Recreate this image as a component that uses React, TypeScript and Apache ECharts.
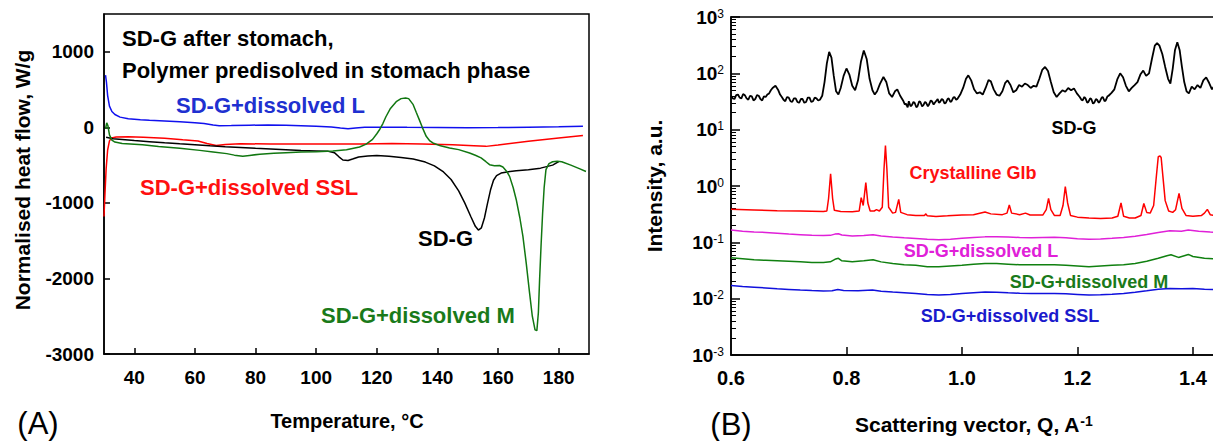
import { useEffect, useRef } from "react";
import * as echarts from "echarts";

// ---------- Panel A: DSC ----------
const dscTempTicks = [40, 60, 80, 100, 120, 140, 160, 180];
const dscHeatTicks = [-3000, -2000, -1000, 0, 1000];

const dscL: [number, number][] = [
  [30.5, 690], [30.8, 600], [31.2, 420], [31.8, 280], [32.6, 210], [33.6, 170], [35.3, 135], [38, 115],
  [42, 100], [45, 93], [50, 85], [55, 75], [60, 62], [63, 50], [66, 30], [68, 22], [72, 24], [78, 28],
  [84, 32], [90, 28], [95, 22], [100, 15], [105, 5], [108, -8], [110.5, -18], [113, -8], [116, 0],
  [122, 2], [130, 0], [140, -2], [150, -4], [160, -3], [170, 2], [180, 8], [188, 15],
];

const dscSSL: [number, number][] = [
  [30, -1180], [30.3, -900], [30.7, -550], [31.2, -300], [31.8, -180], [32.5, -140], [34, -128], [38, -125],
  [43, -130], [50, -145], [56, -165], [61, -180], [64, -215], [67, -240], [70, -228], [75, -218], [85, -220],
  [95, -222], [105, -222], [115, -220], [125, -215], [135, -222], [145, -232], [152, -245], [156, -252],
  [160, -235], [170, -185], [180, -140], [188, -108],
];

const dscSDG: [number, number][] = [
  [30.7, -130], [33, -150], [36, -160], [40, -175], [45, -190], [50, -205], [55, -218], [60, -230],
  [65, -245], [70, -258], [75, -268], [80, -278], [85, -287], [90, -296], [95, -305], [100, -312],
  [104, -318], [106, -335], [107.5, -390], [108.8, -432], [110.5, -440], [112, -420], [114, -392],
  [117, -378], [120, -372], [124, -382], [128, -400], [132, -420], [136, -460], [139, -510], [142, -590],
  [144.5, -690], [147, -840], [149, -1000], [151, -1180], [152.5, -1310], [153.5, -1360], [154.5, -1330],
  [155.5, -1200], [156.5, -1010], [157.5, -830], [158.5, -700], [159.5, -640], [161, -605], [163, -590],
  [166, -575], [170, -560], [174, -540], [178, -500], [180, -455],
];

const dscM: [number, number][] = [
  [30.5, -20], [30.9, 60], [31.3, 20], [31.8, -100], [32.6, -170], [33.6, -195], [36, -215], [42.7, -232],
  [48, -255], [55, -278], [61.6, -305], [66, -325], [70.5, -348], [73, -368], [75.8, -384], [78, -372],
  [81.4, -355], [86, -342], [90, -335], [95, -328], [100, -322], [105.5, -314], [110, -298], [114.3, -260],
  [116.5, -222], [118.6, -160], [120, -85], [121, -25], [122, 50], [123, 140], [124.5, 250], [126.4, 340],
  [128, 380], [129.5, 389], [130.5, 380], [132, 300], [133, 200], [134, 102], [135, 0], [136.3, -119],
  [137.5, -180], [138.5, -207], [141, -245], [144, -273], [147, -295], [150.6, -339], [152.5, -370],
  [154.4, -405], [156, -455], [157.2, -494], [158.8, -507], [160.5, -505], [161.6, -525], [162.8, -580],
  [163.8, -649], [165, -800], [166, -958], [167.2, -1200], [168.2, -1444], [169.3, -1800], [170.4, -2194],
  [171.3, -2500], [172.2, -2680], [172.8, -2690], [173.3, -2450], [173.7, -2017], [174.2, -1550],
  [174.7, -1134], [175.2, -800], [175.8, -560], [176.8, -480], [178, -455], [179.5, -448], [181, -455],
  [184, -500], [187, -550], [189, -585],
];

// ---------- Panel B: scattering ----------
const qTickLabels = [0.6, 0.8, 1.0, 1.2, 1.4];
const qTicks = [0.8, 1.0, 1.2, 1.4];

const xrdSDG: [number, number][] = [
  [0.600, 40], [0.603, 36], [0.606, 35], [0.609, 41], [0.612, 42], [0.615, 37], [0.618, 36], [0.621, 43],
  [0.624, 41], [0.627, 36], [0.630, 34], [0.633, 40], [0.636, 39], [0.639, 33], [0.642, 35], [0.645, 41],
  [0.648, 40], [0.651, 35], [0.654, 33], [0.657, 39], [0.660, 38], [0.663, 42], [0.666, 44], [0.669, 50],
  [0.672, 55], [0.677, 60], [0.682, 50], [0.685, 42], [0.688, 38], [0.691, 34], [0.694, 32], [0.697, 38],
  [0.700, 37], [0.703, 32], [0.706, 31], [0.709, 36], [0.712, 36], [0.715, 31], [0.718, 30], [0.721, 35],
  [0.724, 35], [0.727, 30], [0.730, 31], [0.733, 37], [0.736, 37], [0.739, 31], [0.742, 32], [0.745, 37],
  [0.748, 36], [0.751, 33], [0.754, 34], [0.758, 40], [0.762, 70], [0.766, 150], [0.770, 240], [0.774, 190],
  [0.778, 90], [0.782, 48], [0.786, 42], [0.790, 55], [0.795, 90], [0.800, 122], [0.805, 95], [0.810, 60],
  [0.815, 50], [0.820, 75], [0.825, 160], [0.830, 255], [0.835, 180], [0.840, 80], [0.845, 50], [0.849, 42],
  [0.853, 48], [0.858, 65], [0.864, 86], [0.869, 70], [0.874, 44], [0.879, 38], [0.884, 48], [0.888, 52],
  [0.893, 40], [0.898, 33], [0.901, 28], [0.903, 29], [0.906, 25], [0.908, 32], [0.911, 26], [0.913, 27],
  [0.916, 31], [0.918, 30], [0.921, 25], [0.923, 26], [0.926, 32], [0.928, 31], [0.931, 26], [0.933, 27],
  [0.936, 31], [0.938, 30], [0.941, 26], [0.943, 28], [0.946, 33], [0.948, 32], [0.951, 28], [0.953, 30],
  [0.956, 33], [0.958, 35], [0.960, 30], [0.962, 31], [0.965, 35], [0.967, 34], [0.970, 29], [0.972, 30],
  [0.975, 35], [0.977, 36], [0.980, 31], [0.982, 32], [0.985, 37], [0.987, 38], [0.990, 34], [0.992, 35],
  [0.997, 42], [1.002, 55], [1.007, 80], [1.011, 92], [1.016, 75], [1.021, 52], [1.026, 44], [1.031, 46],
  [1.036, 42], [1.041, 55], [1.046, 76], [1.050, 72], [1.055, 52], [1.060, 42], [1.065, 40], [1.070, 48],
  [1.075, 68], [1.079, 75], [1.084, 62], [1.089, 46], [1.094, 50], [1.099, 62], [1.104, 58], [1.109, 66],
  [1.114, 62], [1.119, 55], [1.124, 60], [1.129, 58], [1.134, 80], [1.139, 115], [1.144, 130], [1.149, 110],
  [1.154, 70], [1.159, 46], [1.164, 38], [1.169, 44], [1.174, 50], [1.179, 47], [1.184, 55], [1.189, 50],
  [1.194, 54], [1.199, 44], [1.204, 38], [1.207, 34], [1.209, 33], [1.212, 38], [1.214, 36], [1.217, 30],
  [1.219, 31], [1.222, 36], [1.224, 35], [1.227, 29], [1.229, 30], [1.232, 35], [1.234, 34], [1.237, 30],
  [1.239, 32], [1.242, 37], [1.244, 38], [1.247, 32], [1.249, 33], [1.252, 39], [1.254, 40], [1.259, 45],
  [1.264, 52], [1.269, 78], [1.274, 100], [1.279, 85], [1.284, 60], [1.289, 48], [1.294, 55], [1.299, 62],
  [1.304, 70], [1.309, 95], [1.314, 112], [1.319, 90], [1.324, 100], [1.329, 180], [1.334, 310],
  [1.338, 345], [1.342, 310], [1.347, 220], [1.352, 130], [1.357, 80], [1.361, 66], [1.365, 120],
  [1.369, 260], [1.373, 355], [1.377, 260], [1.381, 130], [1.385, 70], [1.389, 48], [1.393, 44],
  [1.398, 58], [1.403, 52], [1.408, 62], [1.413, 55], [1.418, 75], [1.423, 85], [1.428, 68], [1.433, 52],
  [1.438, 62], [1.442, 58],
];

const xrdGlb: [number, number][] = [
  [0.600, 0.385], [0.640, 0.375], [0.680, 0.365], [0.720, 0.36], [0.760, 0.352], [0.766, 0.36],
  [0.769, 0.6], [0.7725, 1.65], [0.776, 0.6], [0.779, 0.37], [0.790, 0.352], [0.810, 0.35], [0.822, 0.36],
  [0.8255, 0.62], [0.829, 0.45], [0.8335, 1.15], [0.837, 0.5], [0.841, 0.36], [0.848, 0.36], [0.852, 0.38],
  [0.857, 0.36], [0.862, 0.42], [0.865, 2.0], [0.8675, 5.2], [0.870, 2.0], [0.873, 0.42], [0.880, 0.33],
  [0.885, 0.34], [0.8905, 0.58], [0.894, 0.34], [0.905, 0.31], [0.920, 0.30], [0.935, 0.30], [0.9375, 0.32],
  [0.940, 0.295], [0.955, 0.288], [0.975, 0.295], [1.000, 0.305], [1.020, 0.31], [1.040, 0.345],
  [1.050, 0.32], [1.070, 0.31], [1.078, 0.33], [1.082, 0.46], [1.086, 0.33], [1.100, 0.31], [1.110, 0.33],
  [1.118, 0.305], [1.140, 0.305], [1.146, 0.38], [1.150, 0.60], [1.154, 0.38], [1.160, 0.30], [1.170, 0.30],
  [1.175, 0.45], [1.179, 0.98], [1.183, 0.5], [1.188, 0.30], [1.200, 0.28], [1.220, 0.27], [1.240, 0.265],
  [1.260, 0.27], [1.270, 0.29], [1.2755, 0.50], [1.280, 0.29], [1.290, 0.27], [1.300, 0.27], [1.310, 0.30],
  [1.315, 0.49], [1.320, 0.34], [1.326, 0.33], [1.332, 0.45], [1.337, 1.6], [1.340, 3.3], [1.343, 3.4],
  [1.345, 3.2], [1.348, 1.5], [1.352, 0.55], [1.358, 0.36], [1.365, 0.34], [1.370, 0.38], [1.376, 0.74],
  [1.381, 0.4], [1.388, 0.30], [1.400, 0.29], [1.415, 0.30], [1.420, 0.33], [1.425, 0.385], [1.430, 0.31],
  [1.442, 0.29],
];

const xrdL: [number, number][] = [
  [0.600, 0.165], [0.62, 0.158], [0.64, 0.153], [0.66, 0.150], [0.68, 0.145], [0.70, 0.140], [0.72, 0.137],
  [0.74, 0.133], [0.76, 0.132], [0.772, 0.133], [0.78, 0.140], [0.786, 0.142], [0.792, 0.135], [0.81, 0.130],
  [0.83, 0.132], [0.846, 0.136], [0.86, 0.130], [0.88, 0.124], [0.90, 0.120], [0.92, 0.117], [0.94, 0.113],
  [0.96, 0.111], [0.98, 0.114], [1.00, 0.118], [1.02, 0.122], [1.04, 0.125], [1.06, 0.126], [1.08, 0.124],
  [1.10, 0.122], [1.12, 0.121], [1.14, 0.122], [1.16, 0.123], [1.18, 0.120], [1.20, 0.116], [1.22, 0.114],
  [1.24, 0.115], [1.26, 0.118], [1.28, 0.122], [1.30, 0.128], [1.32, 0.138], [1.34, 0.150], [1.36, 0.160],
  [1.38, 0.158], [1.392, 0.165], [1.41, 0.158], [1.43, 0.152], [1.44, 0.150],
];

const xrdM: [number, number][] = [
  [0.600, 0.053], [0.62, 0.051], [0.64, 0.049], [0.66, 0.048], [0.68, 0.047], [0.70, 0.046], [0.72, 0.045],
  [0.74, 0.044], [0.76, 0.044], [0.772, 0.045], [0.78, 0.050], [0.786, 0.052], [0.792, 0.047], [0.81, 0.045],
  [0.83, 0.047], [0.846, 0.049], [0.86, 0.045], [0.88, 0.042], [0.90, 0.040], [0.92, 0.039], [0.94, 0.037],
  [0.96, 0.037], [0.98, 0.038], [1.00, 0.039], [1.02, 0.041], [1.04, 0.042], [1.06, 0.042], [1.08, 0.041],
  [1.10, 0.040], [1.12, 0.040], [1.14, 0.040], [1.16, 0.040], [1.18, 0.039], [1.20, 0.038], [1.22, 0.037],
  [1.24, 0.038], [1.26, 0.039], [1.28, 0.040], [1.30, 0.042], [1.32, 0.046], [1.34, 0.052], [1.355, 0.058],
  [1.362, 0.060], [1.375, 0.054], [1.385, 0.058], [1.392, 0.061], [1.40, 0.056], [1.42, 0.052], [1.44, 0.051],
];

const xrdSSL: [number, number][] = [
  [0.600, 0.0172], [0.62, 0.0165], [0.64, 0.016], [0.66, 0.0155], [0.68, 0.015], [0.70, 0.0146],
  [0.72, 0.0142], [0.74, 0.0139], [0.76, 0.0137], [0.775, 0.0138], [0.785, 0.0145], [0.795, 0.014],
  [0.82, 0.0138], [0.845, 0.0142], [0.86, 0.0136], [0.88, 0.0131], [0.90, 0.0127], [0.92, 0.0123],
  [0.94, 0.0119], [0.96, 0.0116], [0.98, 0.0119], [1.00, 0.0123], [1.02, 0.0127], [1.04, 0.0131],
  [1.06, 0.0130], [1.08, 0.0127], [1.10, 0.0125], [1.12, 0.0124], [1.14, 0.0124], [1.16, 0.0124],
  [1.18, 0.0122], [1.20, 0.0119], [1.22, 0.0116], [1.24, 0.0117], [1.26, 0.0120], [1.28, 0.0124],
  [1.30, 0.0130], [1.32, 0.0138], [1.34, 0.0147], [1.36, 0.0152], [1.38, 0.0150], [1.40, 0.0151],
  [1.42, 0.0147], [1.44, 0.0145],
];

const FONT = '"Liberation Sans", Arial, Helvetica, sans-serif';

function txt(text: string, x: number, y: number, size: number, color: string, align = "left", weight = "bold", rotation = 0) {
  return {
    type: "text",
    x,
    y,
    rotation,
    silent: true,
    style: {
      text,
      fill: color,
      fontSize: size,
      fontWeight: weight,
      fontFamily: FONT,
      textAlign: align,
      textVerticalAlign: "middle",
    },
  };
}

function line(data: [number, number][], color: string, width: number, xi: number, yi: number) {
  return {
    type: "line",
    data,
    xAxisIndex: xi,
    yAxisIndex: yi,
    showSymbol: false,
    symbol: "none",
    silent: true,
    clip: true,
    lineStyle: { color, width },
    itemStyle: { color },
  };
}

export default function App() {
  const ref = useRef<HTMLDivElement>(null);

  useEffect(() => {
    if (!ref.current) return;
    const chart = echarts.init(ref.current, null, { renderer: "svg" });

    const minorLog: number[] = [];
    for (let e = -3; e < 3; e++) for (let k = 2; k <= 9; k++) minorLog.push(e + Math.log10(k));

    const axisLine = { show: true, onZero: false, lineStyle: { color: "#000", width: 1.5 } };
    const labelBase = { color: "#000", fontWeight: "bold", fontFamily: FONT };

    chart.setOption({
      animation: false,
      backgroundColor: "#fff",
      grid: [
        { left: 104, top: 14, width: 485, height: 340, show: true, borderColor: "#000", borderWidth: 1.5, backgroundColor: "transparent", outerBoundsMode: "none" },
        { left: 731, top: 17, width: 485, height: 338, show: true, borderColor: "#000", borderWidth: 1.5, backgroundColor: "transparent", outerBoundsMode: "none" },
      ],
      xAxis: [
        {
          type: "value", gridIndex: 0, min: 30, max: 190, axisLine, position: "bottom",
          splitLine: { show: false },
          axisTick: { show: true, inside: true, length: 6, customValues: dscTempTicks, lineStyle: { color: "#000", width: 1.5 } },
          axisLabel: { ...labelBase, fontSize: 19, margin: 14, customValues: dscTempTicks, formatter: (v: number) => String(v) },
        },
        {
          type: "value", gridIndex: 1, min: 0.6, max: 1.44, axisLine, position: "bottom",
          splitLine: { show: false },
          axisTick: { show: true, inside: true, length: 8, customValues: qTicks, lineStyle: { color: "#000", width: 1.5 } },
          axisLabel: { ...labelBase, fontSize: 20, margin: 13, customValues: qTickLabels, formatter: (v: number) => v.toFixed(1) },
        },
      ],
      yAxis: [
        {
          type: "value", gridIndex: 0, min: -3000, max: 1500, axisLine, position: "left",
          splitLine: { show: false },
          axisTick: { show: true, inside: true, length: 6, customValues: dscHeatTicks, lineStyle: { color: "#000", width: 1.5 } },
          axisLabel: { ...labelBase, fontSize: 19, margin: 10, customValues: dscHeatTicks, formatter: (v: number) => String(v) },
        },
        {
          type: "log", gridIndex: 1, logBase: 10, min: 0.001, max: 1000, position: "left", axisLine,
          splitLine: { show: false },
          minorTick: { show: false },
          axisTick: { show: true, inside: true, length: 9, lineStyle: { color: "#000", width: 1.5 } },
          axisLabel: {
            margin: 7,
            formatter: (v: number) => `{b|10}{s|${Math.round(Math.log10(v))}}`,
            rich: {
              b: { fontSize: 19, fontWeight: "bold", fontFamily: FONT, color: "#000", lineHeight: 19 },
              s: { fontSize: 12, fontFamily: FONT, color: "#000", verticalAlign: "top" },
            },
          },
        },
        {
          type: "value", gridIndex: 1, min: -3, max: 3, position: "left",
          axisLine: { show: false, onZero: false },
          splitLine: { show: false },
          axisLabel: { show: false },
          axisTick: { show: true, inside: true, length: 5, customValues: minorLog, lineStyle: { color: "#000", width: 1 } },
        },
      ],
      series: [
        line(dscL, "#1010ee", 1.5, 0, 0),
        line(dscSSL, "#ff0000", 1.5, 0, 0),
        line(dscSDG, "#000000", 1.5, 0, 0),
        line(dscM, "#117711", 1.5, 0, 0),
        line(xrdSSL, "#1010dd", 1.5, 1, 1),
        line(xrdM, "#108010", 1.5, 1, 1),
        line(xrdL, "#e020d8", 1.5, 1, 1),
        line(xrdGlb, "#ff0000", 1.5, 1, 1),
        line(xrdSDG, "#000000", 1.8, 1, 1),
      ],
      graphic: [
        txt("SD-G after stomach,", 122, 38, 22, "#000"),
        txt("Polymer predisolved in stomach phase", 122, 70, 22, "#000"),
        txt("SD-G+dissolved L", 176, 105, 22, "#2030d0"),
        txt("SD-G+dissolved SSL", 140, 187, 22, "#ff1010"),
        txt("SD-G", 418, 238, 22, "#000"),
        txt("SD-G+dissolved M", 321, 315, 22, "#1a7a1a"),
        txt("Normalised heat flow, W/g", 22, 180, 21, "#000", "center", "bold", Math.PI / 2),
        txt("Temperature, °C", 347, 421, 20, "#000", "center"),
        txt("(A)", 38, 423, 31, "#000", "center", "normal"),

        txt("SD-G", 1074, 128, 18, "#000", "center"),
        txt("Crystalline Glb", 973, 173, 18, "#ff1010", "center"),
        txt("SD-G+dissolved L", 981, 251, 18, "#e020d8", "center"),
        txt("SD-G+dissolved M", 1089, 282, 18, "#1a7a1a", "center"),
        txt("SD-G+dissolved SSL", 1010, 316, 18, "#1a1acc", "center"),
        txt("Intensity, a.u.", 654, 186, 21, "#000", "center", "bold", Math.PI / 2),
        {
          type: "text",
          x: 855,
          y: 424,
          silent: true,
          style: {
            text: "{t|Scattering vector, Q, A}{s|-1}",
            textAlign: "left",
            textVerticalAlign: "middle",
            rich: {
              t: { fontSize: 21, fontWeight: "bold", fontFamily: FONT, fill: "#000", color: "#000", lineHeight: 21 },
              s: { fontSize: 14, fontWeight: "bold", fontFamily: FONT, fill: "#000", color: "#000", verticalAlign: "top" },
            },
          },
        },
        txt("(B)", 731, 424, 31, "#000", "center", "normal"),
      ],
    });

    return () => chart.dispose();
  }, []);

  return (
    <div
      ref={ref}
      style={{ position: "fixed", left: 0, top: 0, width: 1213, height: 441, background: "#fff" }}
    />
  );
}
